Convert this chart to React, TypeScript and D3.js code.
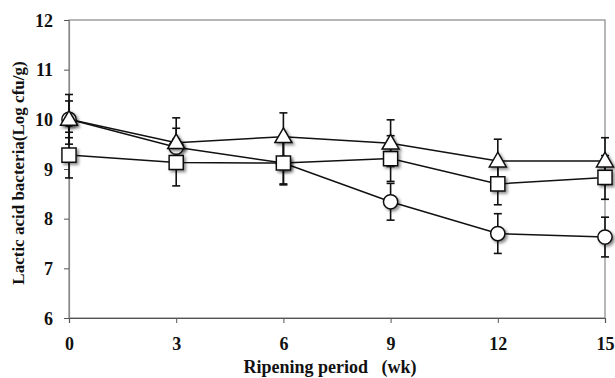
import React, { useEffect, useRef } from 'react';
import * as d3 from 'd3';

// ripening weeks
const weeks = [0, 3, 6, 9, 12, 15];
const yTicks = [6, 7, 8, 9, 10, 11, 12];

// three treatments
const circleVals = [10.0, 9.44, 9.12, 8.34, 7.7, 7.63];
const circleErr = [0.5, 0.38, 0.42, 0.37, 0.4, 0.4];
const squareVals = [9.28, 9.13, 9.12, 9.21, 8.7, 8.83];
const squareErr = [0.46, 0.47, 0.44, 0.46, 0.42, 0.44];
const triangleVals = [10.0, 9.53, 9.65, 9.52, 9.16, 9.16];
const triangleErr = [0.37, 0.5, 0.48, 0.47, 0.44, 0.47];

const series = [
  { name: 'circle', vals: circleVals, err: circleErr, shape: d3.symbolCircle, size: 160 },
  { name: 'square', vals: squareVals, err: squareErr, shape: d3.symbolSquare, size: 200 },
  { name: 'triangle', vals: triangleVals, err: triangleErr, shape: d3.symbolTriangle, size: 125 },
];

const FONT = "'Liberation Serif', 'Times New Roman', Times, serif";

export default function App() {
  const ref = useRef<SVGSVGElement>(null);

  useEffect(() => {
    const svg = d3.select(ref.current);
    svg.selectAll('*').remove();

    const margin = { top: 20, right: 10, bottom: 60, left: 69 };
    const plotW = 605 - margin.left;
    const plotH = 318 - margin.top;

    const defs = svg.append('defs');
    const f = defs.append('filter').attr('id', 'shadow').attr('x', '-50%').attr('y', '-50%').attr('width', '200%').attr('height', '200%');
    f.append('feDropShadow').attr('dx', 2).attr('dy', 2).attr('stdDeviation', 1.5)
      .attr('flood-color', '#000').attr('flood-opacity', 0.45);

    const x = d3.scaleLinear().domain([0, 15]).range([0, plotW]);
    const y = d3.scaleLinear().domain([6, 12]).range([plotH, 0]);

    const g = svg.append('g').attr('transform', `translate(${margin.left},${margin.top})`);

    // plot box
    g.append('rect').attr('x', 0).attr('y', 0).attr('width', plotW).attr('height', plotH)
      .attr('fill', 'none').attr('stroke', '#888').attr('stroke-width', 1.2);

    const axisY = g.append('g').call(d3.axisLeft(y).tickValues(yTicks).tickSize(5).tickFormat(d3.format('d')));
    axisY.select('.domain').attr('stroke', '#888').attr('stroke-width', 1.2);
    axisY.selectAll('.tick line').attr('stroke', '#555');
    axisY.selectAll('text').style('font-family', FONT).style('font-weight', 'bold')
      .style('font-size', '18px').attr('fill', '#111').attr('x', -16).attr('dy', '0.34em');

    const axisX = g.append('g').attr('transform', `translate(0,${plotH})`)
      .call(d3.axisBottom(x).tickValues(weeks).tickSize(5).tickFormat(d3.format('d')));
    axisX.select('.domain').attr('stroke', '#555').attr('stroke-width', 1.2);
    axisX.selectAll('.tick line').attr('stroke', '#555');
    axisX.selectAll('text').style('font-family', FONT).style('font-weight', 'bold')
      .style('font-size', '18px').attr('fill', '#111').attr('y', 32).attr('dy', 0);

    const line = d3.line<number>().x((d, i) => x(weeks[i])).y(d => y(d));

    series.forEach(s => {
      g.append('path').datum(s.vals).attr('d', line).attr('fill', 'none')
        .attr('stroke', '#111').attr('stroke-width', 1.5);
    });

    series.forEach(s => {
      const eb = g.append('g').attr('stroke', '#111').attr('stroke-width', 1.6);
      s.vals.forEach((v, i) => {
        const cx = x(weeks[i]);
        const top = y(v + s.err[i]), bot = y(v - s.err[i]);
        eb.append('line').attr('x1', cx).attr('x2', cx).attr('y1', top).attr('y2', bot);
        eb.append('line').attr('x1', cx - 4).attr('x2', cx + 4).attr('y1', top).attr('y2', top);
        eb.append('line').attr('x1', cx - 4).attr('x2', cx + 4).attr('y1', bot).attr('y2', bot);
      });
    });

    series.forEach(s => {
      g.append('g').selectAll('path').data(s.vals).enter().append('path')
        .attr('d', d3.symbol().type(s.shape).size(s.size)())
        .attr('transform', (d, i) => `translate(${x(weeks[i])},${y(d) + (s.name === 'triangle' ? 1 : 0)})`)
        .attr('fill', 'white').attr('stroke', '#111').attr('stroke-width', 1.5)
        .attr('filter', 'url(#shadow)');
    });

    svg.append('text')
      .text('Lactic acid bacteria(Log cfu/g)')
      .style('font-family', FONT).style('font-weight', 'bold').style('font-size', '17px')
      .attr('fill', '#111').attr('text-anchor', 'middle').attr('dominant-baseline', 'middle')
      .attr('transform', `translate(20,173) rotate(-90)`);

    svg.append('text')
      .text('Ripening period\u00a0\u00a0 (wk)')
      .style('font-family', FONT).style('font-weight', 'bold').style('font-size', '18px')
      .attr('fill', '#111').attr('text-anchor', 'middle')
      .attr('x', 330).attr('y', 373);
  }, []);

  return <svg ref={ref} width={615} height={378} style={{ position: 'absolute', left: 0, top: 0, background: 'white' }} />;
}
